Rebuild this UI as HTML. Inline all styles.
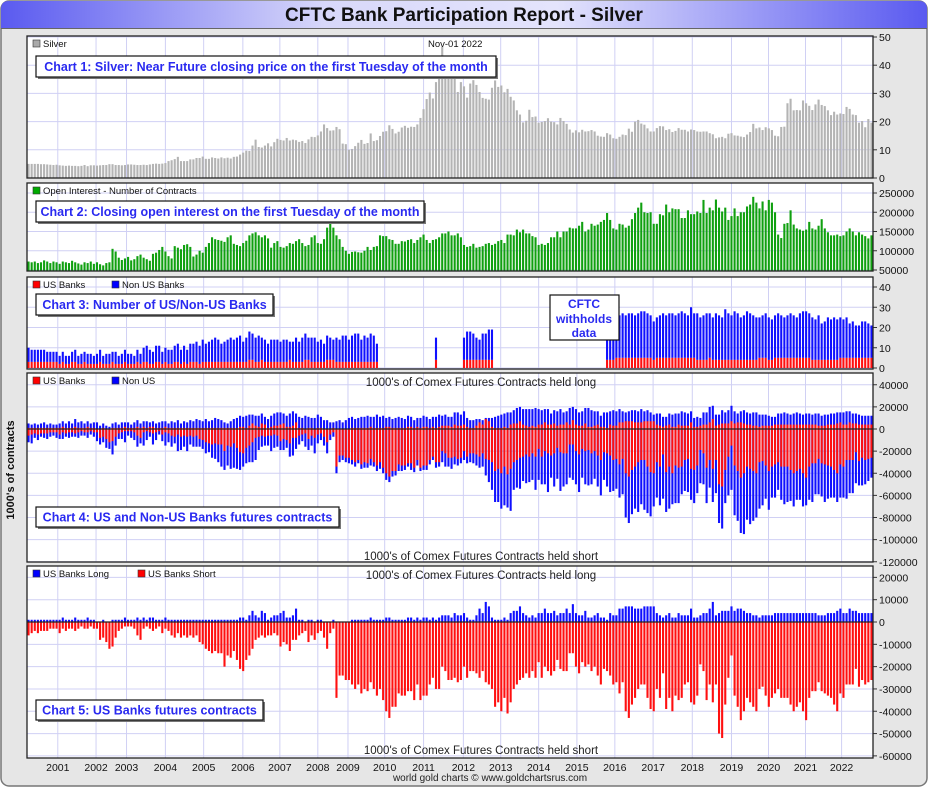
<!DOCTYPE html>
<html><head><meta charset="utf-8">
<style>
html,body{margin:0;padding:0;background:#fff;}
svg{display:block;font-family:"Liberation Sans",sans-serif;}
</style></head>
<body>
<svg id="root" width="929" height="788" viewBox="0 0 929 788" xmlns="http://www.w3.org/2000/svg">
<defs>
<linearGradient id="tg" x1="0" x2="1" y1="0" y2="0">
<stop offset="0" stop-color="#5a5af0"/><stop offset="0.35" stop-color="#d8d8fa"/><stop offset="0.6" stop-color="#e4e4fc"/><stop offset="1" stop-color="#5a5af0"/>
</linearGradient>
</defs>
<rect x="1" y="1" width="926" height="785" rx="8" fill="#e6e6e6" stroke="#777" stroke-width="1.5"/>
<path d="M1,28 L1,9 Q1,1 9,1 L919,1 Q927,1 927,9 L927,28 Z" fill="url(#tg)"/>
<line x1="1" y1="28.5" x2="927" y2="28.5" stroke="#666" stroke-width="1"/>
<text x="464" y="21" text-anchor="middle" font-size="19" font-weight="bold" fill="#111">CFTC Bank Participation Report - Silver</text>
<g id="charts"></g>
<text x="14" y="470" transform="rotate(-90 14 470)" text-anchor="middle" font-size="11" font-weight="bold" fill="#111">1000's of contracts</text>
<text x="490" y="781" text-anchor="middle" font-size="10" fill="#222">world gold charts © www.goldchartsrus.com</text>
</svg>
<script>
// ---------- DATA (Apr 2000 .. Nov 2022, monthly) ----------
const yearLabels = ["2001","2002","2003","2004","2005","2006","2007","2008","2009","2010","2011","2012","2013","2014","2015","2016","2017","2018","2019","2020","2021","2022"];
const yearTickIdx = [9.9,22.2,32,44.5,56.8,69.4,81.3,93.5,103.2,115,127.5,140.3,152.3,164.5,176.8,189,201.3,213.9,226.5,238.4,250.3,261.9];

const silver = [
5.0,5.0,5.0,5.0,4.9,4.9,4.8,4.7,4.6,
4.7,4.5,4.4,4.3,4.4,4.3,4.3,4.2,4.3,4.6,4.2,4.5,
4.5,4.4,4.5,4.6,4.6,4.9,4.9,4.6,4.6,4.5,4.6,4.8,
4.8,4.7,4.6,4.6,4.7,4.6,4.8,5.0,5.1,5.0,5.1,5.3,
6.0,6.3,6.7,7.5,6.0,6.0,6.0,6.6,6.6,7.1,7.1,7.6,
6.8,6.8,7.3,7.1,6.9,7.3,7.0,7.2,6.9,7.5,7.6,8.3,
9.0,9.7,9.6,11.5,13.6,11.0,10.8,11.5,12.3,11.2,12.7,13.9,
13.5,13.3,14.2,13.3,13.6,13.4,12.8,13.1,12.4,13.7,14.6,14.5,
15.1,16.5,19.0,17.7,16.8,16.9,18.1,17.3,12.2,12.0,10.0,10.3,
11.3,12.5,13.5,12.1,12.4,15.8,13.1,13.4,14.9,16.4,16.6,18.7,
17.4,15.8,16.4,17.9,18.5,17.8,18.2,18.1,19.0,21.3,24.4,28.0,
30.3,28.2,34.0,37.9,46.5,36.0,36.0,41.5,41.0,30.5,34.0,32.5,
28.5,33.5,34.7,33.0,30.5,28.4,28.1,27.8,32.0,34.6,32.3,32.8,
30.4,31.6,28.8,27.5,24.0,22.5,19.7,20.3,24.2,21.6,21.8,19.6,
19.9,20.2,21.2,20.0,19.8,19.0,21.3,20.2,19.2,17.2,16.1,16.9,
16.2,17.1,16.5,16.6,17.0,16.5,15.0,14.7,14.6,15.9,15.4,14.1,
13.9,14.6,15.4,15.2,17.5,16.4,20.0,20.6,19.3,18.9,17.6,16.5,
16.5,17.7,18.4,18.3,17.0,17.3,16.3,16.7,17.7,17.1,17.1,16.5,
17.2,17.0,16.5,16.4,16.5,16.5,15.9,15.5,14.1,14.4,14.6,14.1,
15.7,15.9,15.1,15.0,14.7,14.5,15.4,16.3,19.2,17.6,17.9,17.0,
18.0,17.6,17.0,15.0,14.8,18.1,18.2,26.5,28.1,24.0,24.1,24.0,
27.5,26.5,25.6,24.1,26.1,27.8,25.9,25.5,24.0,22.3,23.5,22.5,
22.9,22.7,25.2,24.5,22.5,22.3,19.6,20.2,18.0,20.9,19.6];

const openInterestK = [
72,70,72,68,70,75,72,68,72,
70,66,72,70,68,74,70,67,64,70,68,72,
66,70,65,62,68,70,105,98,82,76,80,84,
75,78,86,90,82,78,74,92,95,102,110,98,
86,80,112,108,104,115,117,110,85,90,100,95,
110,120,135,130,128,126,123,135,140,118,115,112,
120,126,140,145,148,140,135,140,132,108,120,125,
110,108,112,120,118,125,130,120,112,115,135,140,
120,118,130,160,175,160,140,130,110,100,92,97,
98,96,95,100,110,102,110,112,140,138,138,130,
128,118,118,125,124,128,130,120,128,135,142,128,
120,128,130,135,145,145,150,140,140,145,135,115,
110,112,118,108,110,112,118,120,115,118,125,128,
120,142,142,140,155,148,155,145,145,138,135,115,
118,115,120,135,135,150,135,150,150,160,158,158,
165,175,150,155,170,165,168,175,180,198,180,158,
155,170,168,160,165,182,198,212,225,200,198,200,
170,170,195,192,220,200,210,208,208,185,185,205,
195,195,202,198,232,198,212,205,233,212,202,212,
180,190,210,190,200,200,215,220,240,225,210,228,
205,232,225,200,142,133,170,172,205,168,158,155,
152,155,175,158,155,165,182,158,148,140,140,142,
138,140,150,158,150,140,148,142,138,132,140];

const n=null;
const usBanks = [
3,3,3,3,3,3,3,3,3,
3,2,3,2,2,3,3,2,2,3,2,2,
2,2,3,2,2,2,3,2,2,2,3,2,
2,2,3,2,3,3,2,2,3,3,2,3,
2,2,3,3,2,3,2,3,3,3,2,3,
3,3,3,3,3,3,3,3,3,3,3,3,
3,3,4,4,3,3,4,3,3,3,3,3,
3,3,3,4,3,3,3,3,4,4,3,3,
3,3,3,4,4,4,3,3,3,3,3,3,
3,3,3,3,3,3,3,3,n,n,n,n,
n,n,n,n,n,n,n,n,n,n,n,n,
n,n,4,n,n,n,n,n,n,n,n,4,
4,4,4,4,4,4,4,4,4,n,n,n,
n,n,n,n,n,n,n,n,n,n,n,n,
n,n,n,n,n,n,n,n,n,n,n,n,
n,n,n,n,n,n,n,n,n,4,4,4,
5,5,5,5,5,5,5,5,5,5,5,5,
4,5,5,5,5,5,5,5,5,5,5,5,
5,5,4,4,4,4,5,4,4,4,4,4,
4,4,4,4,4,4,4,4,4,4,5,5,
5,4,4,5,5,5,5,5,5,5,5,5,
5,5,5,4,4,4,4,4,4,4,4,4,
5,5,5,5,5,5,5,5,5,5,5];
const nonUsBanks = [
7,6,6,6,6,6,5,5,5,
5,4,5,4,4,5,6,4,5,5,5,5,
4,5,6,4,5,5,5,6,4,5,6,5,
5,4,6,5,7,8,7,6,8,8,6,7,
7,7,8,9,7,8,7,9,9,10,9,11,
9,10,11,12,11,9,10,11,12,11,12,13,
10,12,14,13,12,13,11,11,9,11,11,11,
10,11,11,9,10,12,10,12,13,11,12,12,
10,11,9,12,11,10,12,11,13,13,11,13,
14,14,11,13,12,14,13,9,n,n,n,n,
n,n,n,n,n,n,n,n,n,n,n,n,
n,n,11,n,n,n,n,n,n,n,n,11,
14,14,13,11,10,13,13,15,15,n,n,n,
n,n,n,n,n,n,n,n,n,n,n,n,
n,n,n,n,n,n,n,n,n,n,n,n,
n,n,n,n,n,n,n,n,n,16,18,20,
20,21,22,21,22,22,21,22,23,23,22,21,
19,20,21,22,21,22,22,21,22,23,22,21,
25,22,23,21,22,23,22,21,23,22,21,25,
23,22,24,23,21,22,24,23,22,21,20,21,
22,21,20,21,22,21,20,21,22,21,20,22,
23,23,22,21,20,22,18,19,21,20,21,20,
20,19,20,17,18,16,16,18,18,17,16];

const usLongK = [
1,1,1,1,1,1,1,1,1,
1,1,2,1,1,1,2,1,1,1,2,1,
1,0,0,1,0,0,1,1,1,1,2,1,
1,1,2,1,2,1,2,2,1,1,1,2,
1,1,1,1,1,1,1,1,1,1,1,1,
1,1,1,1,1,1,1,1,1,1,1,2,
2,1,3,5,3,2,5,4,1,2,3,3,
4,5,2,2,3,6,1,1,0,1,1,0,
1,1,0,0,0,1,0,0,0,0,0,1,
1,1,1,1,1,2,1,1,1,1,2,2,
1,1,1,1,1,2,2,1,2,1,2,2,
1,2,1,2,3,3,3,2,4,3,3,4,
2,1,1,3,6,4,9,7,2,1,1,1,
2,1,4,5,5,7,4,3,2,3,2,4,
4,6,4,4,5,3,4,4,6,4,8,4,
3,3,5,2,2,3,4,2,2,1,4,3,
3,6,6,7,7,7,6,6,6,7,7,7,
7,4,3,2,3,4,2,2,4,3,3,3,
6,2,2,3,4,4,6,9,3,4,5,5,
5,7,5,6,6,5,4,4,3,3,2,3,
3,3,3,4,4,4,4,4,4,4,4,4,
4,4,4,4,4,3,3,3,4,4,4,5,
6,4,4,6,5,5,4,4,4,4,4];
const usShortK = [
6,5,4,5,4,4,4,3,3,
3,5,3,4,3,3,4,3,2,3,3,2,
3,3,8,7,9,12,11,7,4,3,2,2,
2,3,6,8,3,2,3,4,3,2,5,3,
4,6,7,5,7,6,7,6,7,6,9,10,
12,13,14,13,14,14,20,15,16,13,17,21,
22,17,15,12,8,7,6,7,6,6,5,6,
11,9,10,13,8,8,6,5,4,9,6,8,
5,4,7,12,5,3,34,24,24,26,26,28,
30,28,32,30,31,27,30,33,30,35,40,43,
38,38,32,33,33,31,31,35,28,35,33,33,
28,25,30,30,20,22,26,26,25,27,26,20,
25,22,22,23,25,22,27,28,30,38,36,40,
34,41,36,30,28,26,25,23,25,22,25,18,
25,20,22,24,22,17,21,22,22,14,14,20,
23,18,20,19,22,20,24,28,21,22,24,28,
27,32,27,40,43,37,34,30,28,28,34,39,
40,30,34,23,39,34,40,33,35,34,28,27,
36,37,33,19,22,35,28,36,28,50,52,37,
25,15,33,38,44,40,34,36,38,40,30,29,
33,38,34,32,30,34,34,34,37,40,38,36,
40,44,34,31,31,27,31,32,33,34,37,40,
32,34,28,28,28,21,29,26,28,27,26];
const nonUsLongK = [
4,3,4,3,4,5,3,4,3,
3,4,5,4,6,4,7,5,6,4,5,4,
5,6,3,4,3,2,4,5,3,5,4,5,
3,5,6,4,5,6,4,5,4,5,6,5,
4,6,5,7,4,6,5,7,6,8,7,6,
8,6,7,9,8,7,5,4,6,8,9,10,
9,11,10,8,9,10,9,7,8,10,11,12,
11,9,10,12,13,8,10,9,12,10,9,10,
12,10,8,8,6,5,7,8,6,8,10,10,
8,9,10,10,11,9,10,12,10,11,8,9,
8,9,10,9,8,10,9,7,8,9,10,9,
8,9,10,11,9,10,8,9,11,12,10,12,
8,7,7,6,3,4,1,3,8,10,11,12,
12,14,11,12,14,13,14,15,16,15,17,14,
13,12,14,10,12,13,14,11,10,15,12,14,
12,13,14,17,15,13,12,10,13,14,12,14,
13,12,10,8,9,10,11,10,12,9,10,8,
6,10,11,9,8,10,11,12,10,13,12,11,
10,8,9,7,11,11,14,12,10,9,12,10,
12,14,11,8,10,12,11,10,12,12,11,10,
10,9,8,7,10,10,11,10,9,10,11,10,
9,10,10,9,10,11,9,10,9,10,10,10,
9,11,12,10,9,9,9,8,8,8,8];
const nonUsShortK = [
6,8,4,5,3,4,5,4,3,
5,4,6,3,5,4,3,5,4,3,5,3,
4,8,6,5,8,6,12,8,5,6,10,4,
6,7,10,5,12,8,4,10,7,3,6,12,
8,10,6,15,12,10,13,8,9,10,7,8,
10,8,12,14,16,20,17,18,20,22,19,16,
12,14,15,18,20,12,10,8,9,14,12,10,
8,10,7,12,16,10,8,6,12,10,9,14,
8,6,8,10,5,4,6,6,4,4,5,4,
4,3,4,5,4,6,4,5,6,5,6,5,
5,4,6,5,4,3,6,4,5,3,4,4,
4,3,5,4,10,12,8,10,7,6,5,8,
6,8,9,10,10,12,15,20,25,28,30,32,
35,30,38,25,25,28,22,26,23,24,30,28,
25,30,35,20,30,28,35,30,28,30,32,30,
34,26,30,32,28,25,28,32,25,30,33,28,
27,30,32,40,42,40,38,45,40,45,42,40,
30,32,35,40,36,38,28,34,32,25,28,30,
28,30,25,30,28,32,25,30,30,35,38,30,
35,40,45,45,50,55,48,50,45,40,42,40,
30,35,28,30,25,30,34,32,28,30,26,28,
30,25,30,35,28,32,30,34,30,28,25,26,
30,28,35,30,30,28,22,25,22,20,18];

const c1Ticks=[0,10,20,30,40,50];
const c2Ticks=[50000,100000,150000,200000,250000];
const c3Ticks=[0,10,20,30,40];
const c4Ticks=[40000,20000,0,-20000,-40000,-60000,-80000,-100000,-120000];
const c5Ticks=[20000,10000,0,-10000,-20000,-30000,-40000,-50000,-60000];

// ---------- RENDER ----------
const NS="http://www.w3.org/2000/svg";
const G=document.getElementById('charts');
const X0=27,X1=873,N=silver.length,STEP=(X1-X0)/N,BW=2.1;
function xAt(i){return X0+(i+0.5)*STEP;}
function mk(tag,a,parent){const e=document.createElementNS(NS,tag);for(const k in a)e.setAttribute(k,a[k]);(parent||G).appendChild(e);return e;}
function txt(x,y,s,size,extra,parent){const e=mk('text',Object.assign({x:x,y:y,'font-size':size,fill:'#111'},extra||{}),parent);e.textContent=s;return e;}

function panel(name,top,bot,yf,ticks){
  const g=mk('g',{});
  
  
  const bg=mk('rect',{x:X0,y:top,width:X1-X0,height:bot-top,fill:'#fff'},g);
  
  
  ticks.forEach(t=>{const y=yf(t);
    mk('line',{x1:X0,x2:X1,y1:y,y2:y,stroke:'#d0d0f4','stroke-width':1},g);
    mk('line',{x1:X1,x2:X1+4,y1:y,y2:y,stroke:'#333','stroke-width':1},g);
    const lb=txt(X1+6,y+4,String(t),10.5,{},g);
    
    
  });
  yearTickIdx.forEach(ix=>{const x=X0+ix*STEP;mk('line',{x1:x,x2:x,y1:top,y2:bot,stroke:'#d0d0f4','stroke-width':1},g);});
  const cp=mk('clipPath',{id:'cp-'+name},g);mk('rect',{x:X0,y:top,width:X1-X0,height:bot-top},cp);
  const bars=mk('g',{'clip-path':'url(#cp-'+name+')'},g);
  return {g,bars,top,bot};
}
function frame(p){mk('rect',{x:X0,y:p.top,width:X1-X0,height:p.bot-p.top,fill:'none',stroke:'#222','stroke-width':1.3},p.g);}
function bar(par,i,y1,y2,fill,name){
  const a=Math.min(y1,y2),h=Math.max(0.5,Math.abs(y2-y1));
  const r=mk('rect',{x:(xAt(i)-BW/2).toFixed(2),y:a.toFixed(2),width:BW,height:h.toFixed(2),fill:fill},par);
  
  
}
function legend(p,x,items){items.forEach(it=>{mk('rect',{x:it[0],y:p.top+4,width:7,height:7,fill:it[2],stroke:'#333','stroke-width':0.6},p.g);const t=txt(it[0]+10,p.top+11,it[1],9.5,{},p.g);});}
function labelBox(p,x,y,w,h,s,name){
  const g=mk('g',{},p.g);
  
  
  mk('rect',{x:x+2,y:y+2,width:w,height:h,fill:'#777'},g);
  mk('rect',{x:x,y:y,width:w,height:h,fill:'#fff',stroke:'#111','stroke-width':1.2},g);
  txt(x+w/2,y+h/2+4.5,s,12.5,{'text-anchor':'middle','font-weight':'bold',fill:'#2a2af0'},g);
}

// Chart 1
const y1=v=>178-v*(141/50);
const p1=panel('chart1-silver-price',36,178,y1,c1Ticks);
silver.forEach((v,i)=>bar(p1.bars,i,y1(0),y1(v),'#b4b4b4','silver-bar'));
frame(p1);
legend(p1,0,[[33,'Silver','#aaa']]);
txt(428,47,'Nov-01  2022',9.5,{},p1.g);
labelBox(p1,36,56,460,21,'Chart 1: Silver: Near Future closing price on the first Tuesday of the month','chart1-title');

// Chart 2
const y2=v=>270-(v-50000)*(77/200000);
const p2=panel('chart2-open-interest',183,271,y2,c2Ticks);
openInterestK.forEach((v,i)=>bar(p2.bars,i,y2(40000),y2(v*1000),'#10a010','oi-bar'));
frame(p2);
legend(p2,0,[[33,'Open Interest - Number of Contracts','#0a0']]);
labelBox(p2,36,201,388,21,'Chart 2: Closing open interest on the first Tuesday of the month','chart2-title');

// Chart 3
const y3=v=>368-v*(81/40);
const p3=panel('chart3-bank-count',277,369,y3,c3Ticks);
usBanks.forEach((u,i)=>{if(u===null)return;const t=u+nonUsBanks[i];
  bar(p3.bars,i,y3(u),y3(t),'#1010ff','non-us-banks-bar');
  bar(p3.bars,i,y3(0),y3(u),'#ff1010','us-banks-bar');});
frame(p3);
legend(p3,0,[[33,'US Banks','#f00'],[112,'Non US Banks','#00f']]);
labelBox(p3,36,294,237,21,'Chart 3: Number of US/Non-US Banks','chart3-title');
{const g=mk('g',{},p3.g);
 mk('rect',{x:550,y:295,width:69,height:45,fill:'#fff',stroke:'#111','stroke-width':1.2},g);
 txt(584,308,'CFTC',12,{'text-anchor':'middle','font-weight':'bold',fill:'#2a2af0'},g);
 txt(584,323,'withholds',12,{'text-anchor':'middle','font-weight':'bold',fill:'#2a2af0'},g);
 txt(584,337,'data',12,{'text-anchor':'middle','font-weight':'bold',fill:'#2a2af0'},g);}

// Chart 4
const y4=v=>429-v*(177/160000);
const p4=panel('chart4-us-nonus-futures',373,562,y4,c4Ticks);
usShortK.forEach((s,i)=>{
  bar(p4.bars,i,y4(0),y4((usLongK[i]+nonUsLongK[i])*1000),'#1010ff','nonus-long-bar');
  bar(p4.bars,i,y4(0),y4(-(s+nonUsShortK[i])*1000),'#1010ff','nonus-short-bar');
  bar(p4.bars,i,y4(0),y4(usLongK[i]*1000),'#ff1010','us-long-bar');
  bar(p4.bars,i,y4(0),y4(-s*1000),'#ff1010','us-short-bar');});
mk('line',{x1:X0,x2:X1,y1:y4(0),y2:y4(0),stroke:'#222','stroke-width':1.2},p4.g);
frame(p4);
legend(p4,0,[[33,'US Banks','#f00'],[112,'Non US','#00f']]);
txt(481,386,"1000's of Comex Futures Contracts held long",11.5,{'text-anchor':'middle',fill:'#222'},p4.g);
txt(481,560,"1000's of Comex Futures Contracts held short",11.5,{'text-anchor':'middle',fill:'#222'},p4.g);
labelBox(p4,36,507,303,20,'Chart 4: US and Non-US Banks futures contracts','chart4-title');

// Chart 5
const y5=v=>622-v*(178.5/80000);
const p5=panel('chart5-us-banks-futures',566,758,y5,c5Ticks);
usShortK.forEach((s,i)=>{
  bar(p5.bars,i,y5(0),y5(usLongK[i]*1000),'#1010ff','us-banks-long-bar');
  bar(p5.bars,i,y5(0),y5(-s*1000),'#ff1010','us-banks-short-bar');});
mk('line',{x1:X0,x2:X1,y1:y5(0),y2:y5(0),stroke:'#222','stroke-width':1.2},p5.g);
frame(p5);
legend(p5,0,[[33,'US Banks Long','#00f'],[138,'US Banks Short','#f00']]);
txt(481,579,"1000's of Comex Futures Contracts held long",11.5,{'text-anchor':'middle',fill:'#222'},p5.g);
txt(481,754,"1000's of Comex Futures Contracts held short",11.5,{'text-anchor':'middle',fill:'#222'},p5.g);
labelBox(p5,36,700,227,20,'Chart 5: US Banks futures contracts','chart5-title');

// X axis year labels
yearLabels.forEach((s,k)=>{const t=txt(X0+yearTickIdx[k]*STEP,771,s,10.5,{'text-anchor':'middle'});
  
  });
</script>
</body></html>
